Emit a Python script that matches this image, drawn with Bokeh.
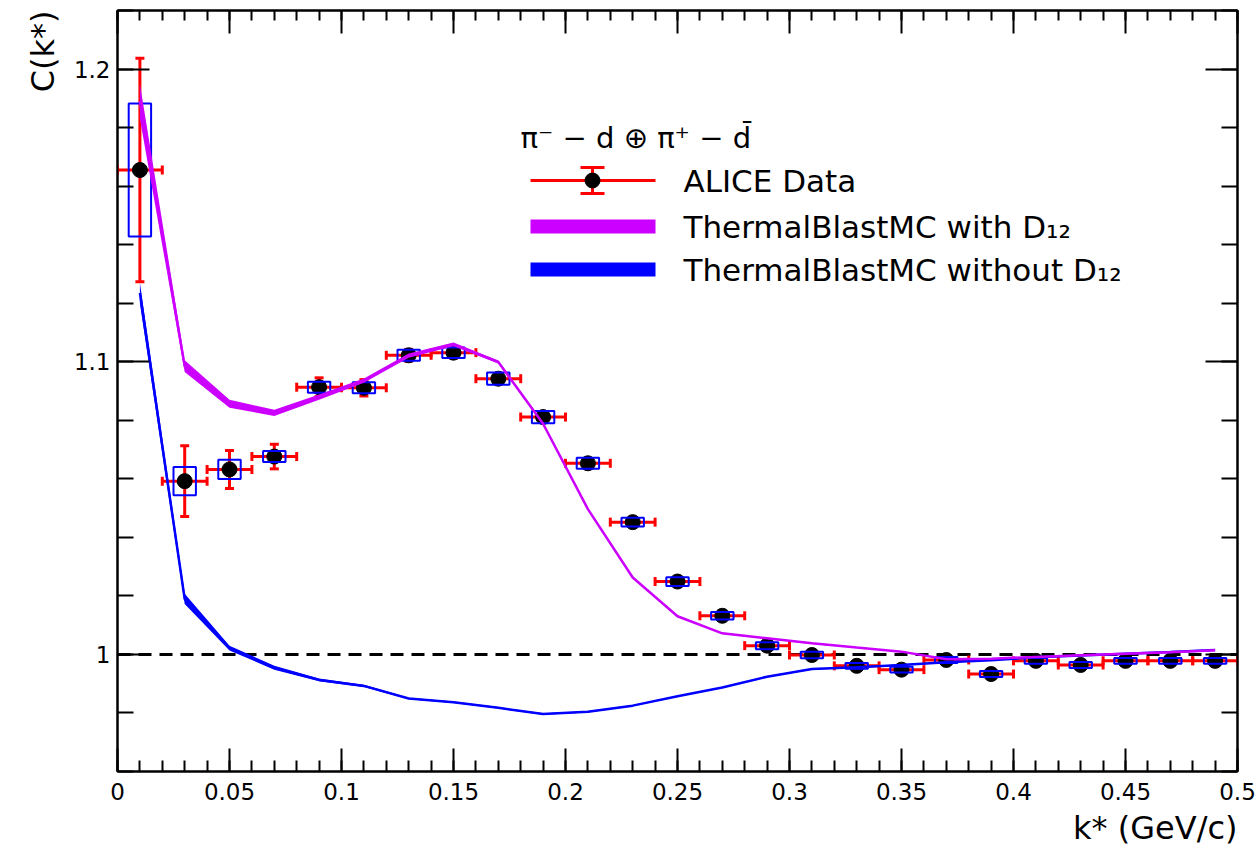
import numpy as np
from bokeh.plotting import figure
from bokeh.models import (Range1d, LinearAxis, FixedTicker, Whisker, TeeHead,
                          ColumnDataSource, Span, Title, CustomJSTickFormatter)
from bokeh.core.properties import value
from bokeh.embed import file_html
from bokeh.resources import INLINE

# ---------------- data ----------------
K = [0.01, 0.03, 0.05, 0.07, 0.09, 0.11, 0.13, 0.15, 0.17, 0.19, 0.21, 0.23, 0.25,
     0.27, 0.29, 0.31, 0.33, 0.35, 0.37, 0.39, 0.41, 0.43, 0.45, 0.47, 0.49]
C_DATA = [1.1655, 1.0592, 1.0632, 1.0676, 1.0913, 1.0911, 1.1022, 1.1031, 1.0942,
          1.0811, 1.0653, 1.0452, 1.0249, 1.0132, 1.0030, 0.9998, 0.9961, 0.9948,
          0.9981, 0.9933, 0.9978, 0.9964, 0.9978, 0.9978, 0.9978]
STAT_ERR = [0.0382, 0.0121, 0.0065, 0.0042, 0.0032, 0.0028, 0.0020, 0.0018, 0.0015,
            0.0015, 0.0015, 0.0014, 0.0013, 0.0012, 0.0012, 0.0011, 0.0011, 0.0011,
            0.0010, 0.0010, 0.0010, 0.0010, 0.0010, 0.0010, 0.0010]
SYS_ERR = [0.0227, 0.0048, 0.0033, 0.0019, 0.0019, 0.0019, 0.0019, 0.0018, 0.0021,
           0.0021, 0.0019, 0.0015, 0.0015, 0.0013, 0.0012, 0.0011, 0.0010, 0.0010,
           0.0010, 0.0010, 0.0010, 0.0010, 0.0010, 0.0010, 0.0010]
K_ERR = 0.01       # bin half width
SYS_HALF_W = 0.005  # systematic box half width

WITH_LO = [1.183, 1.0965, 1.0843, 1.0815, 1.0870, 1.0928, 1.1014, 1.1053, 1.0994,
           1.0784, 1.0493, 1.0260, 1.0128, 1.0070, 1.0053, 1.0036, 1.0022, 1.0008,
           0.9982, 0.9984, 0.9990, 0.9996, 1.0001, 1.0006, 1.0013]
WITH_HI = [1.195, 1.1005, 1.0870, 1.0836, 1.0888, 1.0943, 1.1028, 1.1066, 1.1004,
           1.0792, 1.0500, 1.0266, 1.0133, 1.0074, 1.0057, 1.0040, 1.0025, 1.0011,
           0.9985, 0.9987, 0.9993, 0.9999, 1.0004, 1.0009, 1.0016]
WITHOUT_LO = [1.120, 1.0172, 1.0013, 0.9948, 0.9908, 0.9889, 0.9847, 0.9834, 0.9815,
              0.9794, 0.9802, 0.9823, 0.9855, 0.9885, 0.9922, 0.9948, 0.9954, 0.9962,
              0.9971, 0.9979, 0.9989, 0.9995, 1.0001, 1.0007, 1.0014]
WITHOUT_HI = [1.127, 1.0207, 1.0030, 0.9961, 0.9918, 0.9896, 0.9852, 0.9839, 0.9820,
              0.9799, 0.9807, 0.9827, 0.9859, 0.9889, 0.9926, 0.9952, 0.9958, 0.9966,
              0.9975, 0.9982, 0.9992, 0.9998, 1.0004, 1.0010, 1.0017]

X_TICKS = [0, 0.05, 0.1, 0.15, 0.2, 0.25, 0.3, 0.35, 0.4, 0.45, 0.5]
X_TICK_LABELS = ["0", "0.05", "0.1", "0.15", "0.2", "0.25", "0.3", "0.35", "0.4", "0.45", "0.5"]
Y_TICKS = [1.0, 1.1, 1.2]
Y_TICK_LABELS = ["1", "1.1", "1.2"]

TITLE_TXT = "\u03c0\u207b \u2212 d \u2295 \u03c0\u207a \u2212 d\u0304"
LEG_LABELS = ["ALICE Data", "ThermalBlastMC with D\u2081\u2082", "ThermalBlastMC without D\u2081\u2082"]
X_TITLE = "k* (GeV/c)"
Y_TITLE = "C(k*)"

PURPLE = "#cc00ff"
BLUE = "#0000ff"
RED = "#ff0000"
FONT = "DejaVu Sans"

X0, X1 = 0.0, 0.5
Y0, Y1 = 0.96, 1.22

# ---------------- figure ----------------
p = figure(width=1257, height=852, x_range=Range1d(X0, X1), y_range=Range1d(Y0, Y1),
           output_backend="svg", toolbar_location=None,
           min_border_left=117, min_border_right=20, min_border_top=10, min_border_bottom=81)
p.grid.visible = False
p.outline_line_color = "black"
p.outline_line_width = 2
p.background_fill_color = "white"

x_minor = list(np.round(np.arange(0, 0.5001, 0.01), 4))
y_minor = list(np.round(np.arange(0.96, 1.2201, 0.02), 4))


def style_axis(ax, tin, min_in, labels=True):
    ax.axis_line_width = 2
    ax.axis_line_color = "black"
    ax.major_tick_in = tin
    ax.major_tick_out = 0
    ax.minor_tick_in = min_in
    ax.minor_tick_out = 0
    ax.major_tick_line_width = 2
    ax.minor_tick_line_width = 2
    ax.major_tick_line_color = "black"
    ax.minor_tick_line_color = "black"
    ax.axis_label = None
    if labels:
        ax.major_label_text_font = FONT
        ax.major_label_text_font_size = "23px"
        ax.major_label_text_color = "black"
    else:
        ax.formatter = CustomJSTickFormatter(code="return ''")
        ax.major_label_text_font_size = "0px"
        ax.major_label_standoff = 0
        ax.axis_label_standoff = 0


xb = p.xaxis[0]
xb.ticker = FixedTicker(ticks=X_TICKS, minor_ticks=x_minor)
xb.major_label_overrides = dict(zip(X_TICKS, X_TICK_LABELS))
style_axis(xb, 23, 11)
xb.major_label_standoff = 11

yl = p.yaxis[0]
yl.ticker = FixedTicker(ticks=Y_TICKS, minor_ticks=y_minor)
yl.major_label_overrides = dict(zip(Y_TICKS, Y_TICK_LABELS))
style_axis(yl, 32, 16)
yl.major_label_standoff = 7

xt = LinearAxis(ticker=FixedTicker(ticks=X_TICKS, minor_ticks=x_minor))
style_axis(xt, 23, 10, labels=False)
p.add_layout(xt, "above")

yr = LinearAxis(ticker=FixedTicker(ticks=Y_TICKS, minor_ticks=y_minor))
style_axis(yr, 32, 16, labels=False)
p.add_layout(yr, "right")

# axis titles (ROOT style: aligned to the frame ends)
p.add_layout(Title(text=X_TITLE, align="right", text_font=FONT, text_font_size="32px",
                   text_font_style="normal", text_color="black", standoff=9), "below")
p.add_layout(Title(text=Y_TITLE, align="right", vertical_align="top", text_font=FONT,
                   text_font_size="32px", text_font_style="normal", text_color="black",
                   standoff=14), "left")

# reference line at 1
p.add_layout(Span(location=1.0, dimension="width", line_color="black", line_width=3,
                  line_dash="13 8", level="underlay"))

# ---------------- data points ----------------
k = np.array(K)
c = np.array(C_DATA)
st = np.array(STAT_ERR)
sy = np.array(SYS_ERR)
src = ColumnDataSource(dict(k=k, c=c, ylo=c - st, yhi=c + st, xlo=k - K_ERR, xhi=k + K_ERR,
                            bl=k - SYS_HALF_W, br=k + SYS_HALF_W, bb=c - sy, bt=c + sy))

p.add_layout(Whisker(source=src, base="k", lower="ylo", upper="yhi", dimension="height",
                     line_color=RED, line_width=3, level="underlay",
                     upper_head=TeeHead(size=9, line_color=RED, line_width=3),
                     lower_head=TeeHead(size=9, line_color=RED, line_width=3)))
p.add_layout(Whisker(source=src, base="c", lower="xlo", upper="xhi", dimension="width",
                     line_color=RED, line_width=3, level="underlay",
                     upper_head=TeeHead(size=9, line_color=RED, line_width=3),
                     lower_head=TeeHead(size=9, line_color=RED, line_width=3)))

p.scatter("k", "c", source=src, size=15, color="black")
p.quad(left="bl", right="br", bottom="bb", top="bt", source=src, fill_color=None,
       line_color=BLUE, line_width=2)

# ---------------- models ----------------
for lo, hi, col in ((WITHOUT_LO, WITHOUT_HI, BLUE), (WITH_LO, WITH_HI, PURPLE)):
    lo = np.array(lo)
    hi = np.array(hi)
    p.varea(x=K, y1=lo, y2=hi, fill_color=col)
    p.line(K, (lo + hi) / 2, line_color=col, line_width=2.5)

# ---------------- legend (layout in frame pixels) ----------------
FR_L, FR_T, FR_W, FR_H = 117.0, 10.0, 1120.0, 761.0


def dx(px):
    return X0 + (px - FR_L) * (X1 - X0) / FR_W


def dy(py):
    return Y1 - (py - FR_T) * (Y1 - Y0) / FR_H


ROW_Y = [180, 226, 269]
SYM_X0, SYM_X1, DOT_X, TEXT_X = 530, 655, 592, 683

p.text(x=[dx(520)], y=[dy(137)], text=[TITLE_TXT], text_font=value(FONT),
       text_font_size=value("29px"), text_baseline="middle", text_color="black")
p.text(x=[dx(TEXT_X)] * 3, y=[dy(r) for r in ROW_Y], text=LEG_LABELS, text_font=value(FONT),
       text_font_size=value("31px"), text_baseline="middle", text_color="black")

r0 = ROW_Y[0]
p.segment(x0=[dx(SYM_X0), dx(DOT_X), dx(DOT_X - 12), dx(DOT_X - 12)],
          y0=[dy(r0), dy(r0 - 13), dy(r0 - 13), dy(r0 + 13)],
          x1=[dx(SYM_X1), dx(DOT_X), dx(DOT_X + 12), dx(DOT_X + 12)],
          y1=[dy(r0), dy(r0 + 13), dy(r0 - 13), dy(r0 + 13)],
          line_color=RED, line_width=3)
p.scatter(x=[dx(DOT_X)], y=[dy(r0)], size=15, color="black")
p.quad(left=[dx(SYM_X0)] * 2, right=[dx(SYM_X1)] * 2,
       bottom=[dy(ROW_Y[1] + 7), dy(ROW_Y[2] + 7)], top=[dy(ROW_Y[1] - 7), dy(ROW_Y[2] - 7)],
       fill_color=[PURPLE, BLUE], line_color=None)

open("out.html", "w").write(file_html(p, INLINE))
